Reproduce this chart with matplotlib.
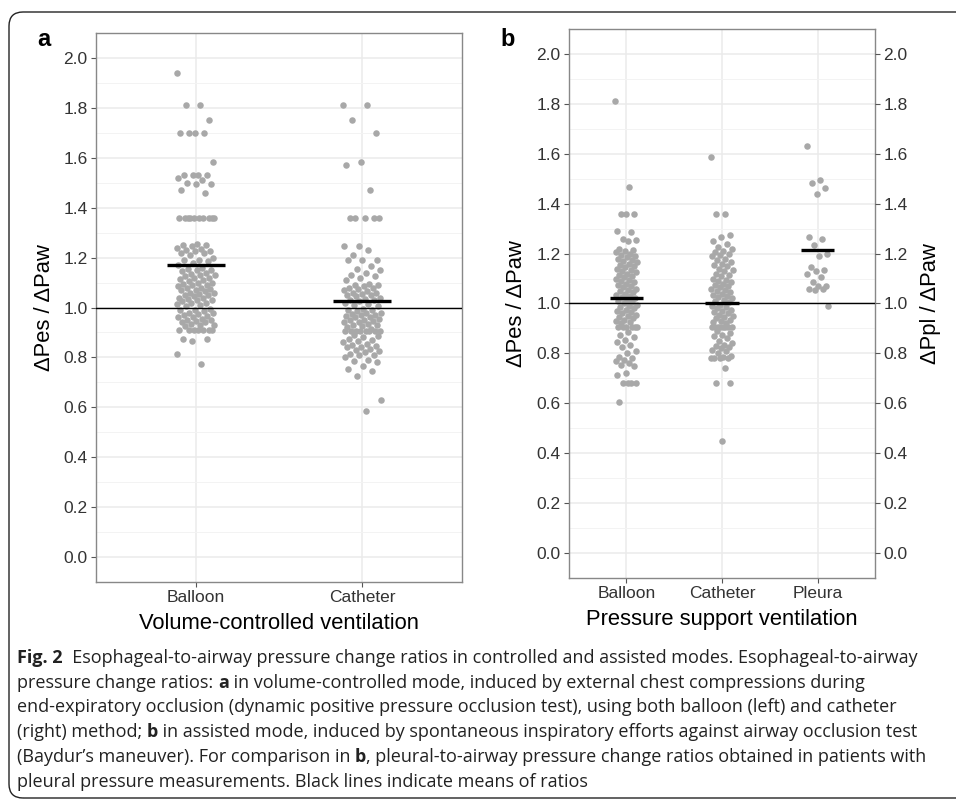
import numpy as np
import matplotlib
matplotlib.use("Agg")
import matplotlib.pyplot as plt
from matplotlib.patches import FancyBboxPatch
from matplotlib.transforms import IdentityTransform

plt.rcParams["font.family"] = ["Liberation Sans", "DejaVu Sans"]

# panel a: volume-controlled ventilation
vc_labels = ["Balloon", "Catheter"]
vc_balloon = [1.94, 1.81, 1.81, 1.75, 1.70, 1.70, 1.70, 1.70, 1.585,
              1.53, 1.53, 1.53, 1.53, 1.52, 1.51, 1.50, 1.495, 1.495, 1.47, 1.46,
              1.36, 1.36, 1.36, 1.36, 1.36, 1.36, 1.36, 1.36, 1.36, 1.36,
              1.255, 1.25, 1.25, 1.245, 1.24, 1.235, 1.23, 1.225, 1.225, 1.22,
              1.22, 1.21, 1.20, 1.19, 1.19, 1.185, 1.18, 1.17,
              1.16, 1.155, 1.15, 1.15, 1.145, 1.14, 1.135, 1.13, 1.13, 1.125,
              1.12, 1.12, 1.115, 1.11, 1.105, 1.10, 1.10, 1.095, 1.09, 1.09,
              1.085, 1.08, 1.08, 1.075, 1.07, 1.07, 1.065, 1.06, 1.06, 1.055,
              1.05, 1.05, 1.045, 1.04, 1.04, 1.035, 1.03, 1.03, 1.025, 1.02,
              1.02, 1.015, 1.01, 1.005,
              0.995, 0.99, 0.99, 0.985, 0.98, 0.98, 0.975, 0.97, 0.965, 0.96,
              0.96, 0.955, 0.95, 0.95, 0.945, 0.94, 0.94, 0.935, 0.93, 0.93, 0.925,
              0.91, 0.91, 0.91, 0.91, 0.91, 0.91, 0.91,
              0.875, 0.873, 0.865, 0.815, 0.775]
vc_catheter = [1.81, 1.81, 1.75, 1.70, 1.585, 1.57, 1.47,
               1.36, 1.36, 1.36, 1.36, 1.36,
               1.245, 1.245, 1.23, 1.21, 1.19, 1.19, 1.19,
               1.165, 1.155, 1.15, 1.14, 1.13, 1.125, 1.12, 1.11,
               1.095, 1.09, 1.09, 1.085,
               1.08, 1.08, 1.075, 1.07, 1.065, 1.06, 1.06, 1.055, 1.05, 1.05,
               1.045, 1.04, 1.035, 1.03, 1.03, 1.025, 1.02, 1.015, 1.01, 1.005,
               0.995, 0.99, 0.99, 0.985, 0.98, 0.98, 0.975, 0.97, 0.97, 0.965,
               0.96, 0.96, 0.955, 0.95, 0.95, 0.945, 0.94, 0.94, 0.935, 0.93,
               0.93, 0.925, 0.92, 0.915,
               0.905, 0.905, 0.905, 0.905, 0.905, 0.905, 0.905, 0.905,
               0.89, 0.885, 0.88, 0.875, 0.87, 0.865, 0.86, 0.855, 0.85, 0.845,
               0.84, 0.84, 0.835, 0.83,
               0.825, 0.82, 0.815, 0.81, 0.81, 0.80, 0.79, 0.785, 0.78, 0.765,
               0.755, 0.745, 0.725, 0.63, 0.585]

# panel b: pressure support ventilation
ps_labels = ["Balloon", "Catheter", "Pleura"]
ps_balloon = [1.81, 1.465, 1.36, 1.36, 1.36,
              1.29, 1.285, 1.26, 1.255, 1.25, 1.22, 1.215, 1.21, 1.205, 1.20,
              1.195, 1.19, 1.185, 1.18, 1.175, 1.17, 1.165, 1.16, 1.155, 1.15,
              1.145, 1.14, 1.135, 1.13, 1.125, 1.12, 1.115, 1.11, 1.105, 1.10,
              1.095, 1.09, 1.085, 1.08, 1.075, 1.07, 1.065, 1.06, 1.055, 1.05,
              1.045, 1.04, 1.035, 1.03, 1.025, 1.02, 1.015, 1.01, 1.005, 1.0,
              0.995, 0.99, 0.985, 0.98, 0.975, 0.97, 0.965, 0.96, 0.955, 0.95,
              0.945, 0.94, 0.935, 0.93, 0.925, 0.92,
              0.905, 0.905, 0.905, 0.905, 0.905, 0.905,
              0.885, 0.875, 0.865, 0.855, 0.845, 0.835, 0.825, 0.81, 0.80, 0.785,
              0.78, 0.775, 0.77, 0.76, 0.755, 0.75, 0.72, 0.715,
              0.68, 0.68, 0.68, 0.68, 0.605]
ps_catheter = [1.585, 1.36, 1.36, 1.275, 1.265, 1.25, 1.24, 1.225, 1.22, 1.21,
               1.205, 1.20, 1.195, 1.19, 1.18, 1.175, 1.165, 1.16, 1.155, 1.15,
               1.14, 1.135, 1.13,
               1.12, 1.115, 1.11, 1.10, 1.095, 1.09, 1.085, 1.08, 1.075, 1.07,
               1.065, 1.06, 1.055, 1.05, 1.045, 1.04, 1.035, 1.03, 1.025, 1.02,
               1.015, 1.01, 1.005,
               0.995, 0.99, 0.985, 0.98, 0.975, 0.97, 0.965, 0.96, 0.955, 0.95,
               0.945, 0.94, 0.935, 0.93, 0.925, 0.92,
               0.905, 0.905, 0.905, 0.905, 0.905, 0.905, 0.905, 0.905,
               0.89, 0.88, 0.875, 0.87, 0.86, 0.85, 0.84,
               0.835, 0.83, 0.825, 0.82, 0.815, 0.81, 0.80, 0.79, 0.785,
               0.78, 0.78, 0.78, 0.78, 0.74, 0.68, 0.68, 0.45]
ps_pleura = [1.632, 1.496, 1.484, 1.464, 1.44, 1.268, 1.26, 1.236, 1.20, 1.19,
             1.148, 1.135, 1.13, 1.12, 1.105, 1.088, 1.072, 1.07, 1.06, 1.06,
             1.055, 0.99]

ticks = [0.0, 0.2, 0.4, 0.6, 0.8, 1.0, 1.2, 1.4, 1.6, 1.8, 2.0]

PT = "#A8A8A8"
TXT = "#333333"

fig = plt.figure(figsize=(9.56, 8.05), dpi=100)
ax_a = fig.add_axes([0.1004, 0.277, 0.3828, 0.682])
ax_b = fig.add_axes([0.5952, 0.282, 0.3201, 0.682])


def strip(ax, labels, groups):
    n = len(labels)
    ax.set_xlim(0.4, n + 0.6)
    ax.set_ylim(-0.1, 2.1)
    ax.set_yticks(ticks)
    ax.set_yticklabels([f"{t:.1f}" for t in ticks])
    ax.set_yticks(np.arange(-0.1, 2.11, 0.2), minor=True)
    ax.set_xticks(range(1, n + 1))
    ax.set_xticklabels(labels)
    ax.grid(True, which="major", color="#EBEBEB", lw=1.1)
    ax.grid(True, which="minor", axis="y", color="#F3F3F3", lw=0.7)
    ax.set_axisbelow(True)
    ax.tick_params(which="minor", length=0)
    ax.tick_params(which="major", length=3.5, width=0.8, color="#555555",
                   labelsize=12.5, labelcolor=TXT, pad=2.5)
    for s in ax.spines.values():
        s.set_color("#888888")
        s.set_linewidth(1.0)
    ax.axhline(1.0, color="black", lw=1.0, zorder=4)
    for i, vals in enumerate(groups):
        y = np.array(vals)
        # spread points sideways (golden-ratio sequence instead of random jitter)
        off = ((np.arange(len(y)) * 0.618034) % 1 - 0.5) * 0.23
        ax.scatter(i + 1 + off, y, s=22, color=PT, lw=0, zorder=3)
        m = y.mean()
        ax.plot([i + 1 - 0.175, i + 1 + 0.175], [m, m], color="black",
                lw=2.4, solid_capstyle="butt", zorder=5)


strip(ax_a, vc_labels, [vc_balloon, vc_catheter])
strip(ax_b, ps_labels, [ps_balloon, ps_catheter, ps_pleura])

ax_r = ax_b.twinx()
ax_r.set_ylim(-0.1, 2.1)
ax_r.set_yticks(ticks)
ax_r.set_yticklabels([f"{t:.1f}" for t in ticks])
ax_r.tick_params(length=3.5, width=0.8, color="#555555", labelsize=12.5,
                 labelcolor=TXT, pad=2.5)
for s in ax_r.spines.values():
    s.set_visible(False)

ax_a.set_ylabel("ΔPes / ΔPaw", fontsize=15.8, va="center")
ax_a.yaxis.set_label_coords(-0.14, 0.5)
ax_b.set_ylabel("ΔPes / ΔPaw", fontsize=15.8, va="center")
ax_b.yaxis.set_label_coords(-0.17, 0.5)
ax_r.set_ylabel("ΔPpl / ΔPaw", fontsize=15.8, rotation=90, va="center")
ax_r.yaxis.set_label_coords(1.18, 0.5)

ax_a.text(0.5, -0.0747, "Volume-controlled ventilation", transform=ax_a.transAxes,
          ha="center", va="center", fontsize=15.8)
ax_b.text(0.5, -0.0765, "Pressure support ventilation", transform=ax_b.transAxes,
          ha="center", va="center", fontsize=15.8)

fig.text(37 / 956, 1 - 40 / 805, "a", fontsize=17, fontweight="bold", va="center")
fig.text(500 / 956, 1 - 40 / 805, "b", fontsize=17, fontweight="bold", va="center")

# rounded frame round the figure
frame = FancyBboxPatch((9, 7), 1100, 786, boxstyle="round,pad=0,rounding_size=14",
                       transform=IdentityTransform(), fill=False,
                       ec="#222222", lw=1.0)
fig.patches.append(frame)

caption = [
    [("Fig. 2", True), ("  Esophageal-to-airway pressure change ratios in controlled and assisted modes. Esophageal-to-airway", False)],
    [("pressure change ratios: ", False), ("a", True), (" in volume-controlled mode, induced by external chest compressions during", False)],
    [("end-expiratory occlusion (dynamic positive pressure occlusion test), using both balloon (left) and catheter", False)],
    [("(right) method; ", False), ("b", True), (" in assisted mode, induced by spontaneous inspiratory efforts against airway occlusion test", False)],
    [("(Baydur\u2019s maneuver). For comparison in ", False), ("b", True), (", pleural-to-airway pressure change ratios obtained in patients with", False)],
    [("pleural pressure measurements. Black lines indicate means of ratios", False)],
]
rend = fig.canvas.get_renderer()
for k, line in enumerate(caption):
    x = 17 / 956
    y = 1 - (663 + k * 24.7) / 805
    for s, bold in line:
        t = fig.text(x, y, s, fontsize=12.95, fontweight="bold" if bold else "normal",
                     family=["Open Sans", "DejaVu Sans"],
                     ha="left", va="baseline", color="#222222")
        x += t.get_window_extent(renderer=rend).width / fig.bbox.width

fig.savefig("out.png", dpi=100)
